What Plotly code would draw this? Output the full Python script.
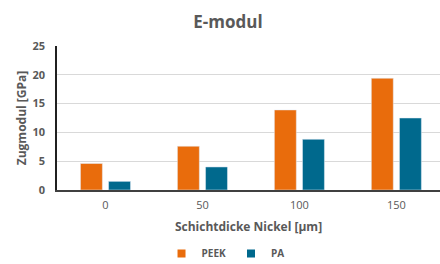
import plotly.graph_objects as go

categories = ["0", "50", "100", "150"]
peek = [4.6, 7.6, 13.9, 19.4]
pa = [1.5, 4.0, 8.8, 12.5]
y_ticks = [0, 5, 10, 15, 20, 25]

GRAY = "#595959"
FONT = "Open Sans"
C_PEEK = "#E96C0C"
C_PA = "#00698D"

fig = go.Figure()
fig.add_trace(go.Bar(name="PEEK", x=categories, y=peek, marker_color=C_PEEK, showlegend=False))
fig.add_trace(go.Bar(name="PA", x=categories, y=pa, marker_color=C_PA, showlegend=False))
# legend entries with small square symbols
for nm, col in [("PEEK", C_PEEK), ("PA", C_PA)]:
    fig.add_trace(go.Scatter(name=f"<b>{nm}</b>", x=[None], y=[None], mode="markers",
                             marker=dict(symbol="square", size=8, color=col), showlegend=True))

fig.update_layout(
    width=440, height=264,
    margin=dict(l=57, r=0, t=46, b=74, autoexpand=False),
    paper_bgcolor="white", plot_bgcolor="white",
    barmode="group", bargap=0.42, bargroupgap=0.22,
    font=dict(family=FONT, color=GRAY),
    title=dict(text="<b>E-modul</b>", x=0.518, xanchor="center", yref="container", y=0.918, yanchor="middle",
               font=dict(size=17, color=GRAY, family=FONT)),
    showlegend=True,
    legend=dict(orientation="h", xref="paper", yref="paper", x=0.44, y=-0.34,
                xanchor="center", yanchor="top",
                font=dict(size=10, color=GRAY, family=FONT),
                itemwidth=30, tracegroupgap=0,
                traceorder="normal"),
)
fig.update_xaxes(
    type="category", range=[-0.5, 3.45], automargin=False,
    showline=True, linecolor="#404040", linewidth=1.5,
    ticks="", tickfont=dict(size=11, color=GRAY), ticklabelstandoff=4,
    title=dict(text="<b>Schichtdicke Nickel [µm]</b>", font=dict(size=12, color=GRAY), standoff=12),
)
fig.update_yaxes(
    range=[0, 25], tickvals=y_ticks, ticktext=[f"<b>{v}</b>" for v in y_ticks],
    showgrid=True, gridcolor="#D9D9D9", gridwidth=1, automargin=False,
    showline=True, linecolor="#202020", linewidth=1.5,
    tickfont=dict(size=11, color=GRAY), ticklabelstandoff=8,
    zeroline=False,
    title=dict(text="<b>Zugmodul [GPa]</b>", font=dict(size=12, color=GRAY), standoff=3),
)

fig.write_html("out.html", config={"displayModeBar": False},
               post_script="document.body.style.margin='0';document.body.style.overflow='hidden';")
